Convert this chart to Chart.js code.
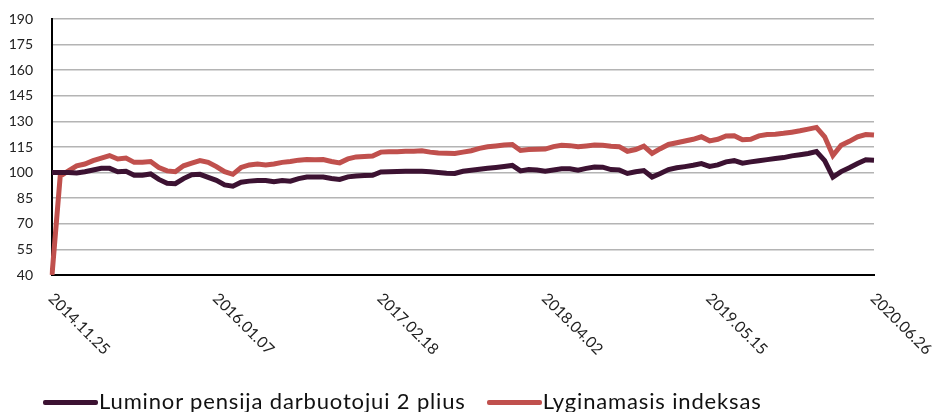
<!DOCTYPE html>
<html>
<head>
<meta charset="utf-8">
<script src="https://cdn.jsdelivr.net/npm/chart.js@4"></script>
<style>
  html, body { margin: 0; padding: 0; background: #fff; }
  #wrap { position: relative; width: 933px; height: 412px; }
  #grafico { display: block; }
  #legend {
    position: absolute; left: 43px; top: 388px;
    font: 22px Lato, sans-serif; color: #111; white-space: nowrap;
    line-height: 26px; letter-spacing: 0.85px;
  }
  .item { display: inline-block; margin-right: 21px; }
  .swatch { display: inline-block; width: 55px; height: 5px; border-radius: 2px; vertical-align: middle; margin-right: 1px; position: relative; top: -1px; }
</style>
</head>
<body>
<div id="wrap">
  <canvas id="grafico" width="933" height="412"></canvas>
  <div id="legend"></div>
</div>
<script>
// ===== DATA =====
const seriesNames = ['Luminor pensija darbuotojui 2 plius', 'Lyginamasis indeksas'];
const seriesColors = ['#3c1232', '#c0504d'];

// tick labels shown every 20th point
const tickLabels = ['2014.11.25', '2016.01.07', '2017.02.18', '2018.04.02', '2019.05.15', '2020.06.26'];
const tickStep = 20;

const fondas = [
  100, 100, 100, 99.8, 100.5, 101.5, 102.5, 102.5, 100.5, 100.8,
  98.5, 98.4, 99.2, 96, 93.8, 93.5, 96.5, 98.8, 99, 97.2,
  95.5, 92.8, 92, 94.4, 95, 95.4, 95.4, 94.6, 95.4, 95,
  96.5, 97.4, 97.4, 97.4, 96.5, 96, 97.5, 98, 98.3, 98.4,
  100.4, 100.5, 100.7, 100.8, 100.8, 100.8, 100.5, 100, 99.6, 99.5,
  100.8, 101.4, 102, 102.5, 103, 103.6, 104.2, 101, 101.8, 101.5,
  100.8, 101.5, 102.2, 102.2, 101.4, 102.5, 103.3, 103.2, 101.8, 101.6,
  99.5, 100.5, 101.2, 97.4, 99.5, 101.8, 102.8, 103.5, 104.3, 105.3,
  103.6, 104.5, 106.3, 107, 105.5, 106.3, 107, 107.6, 108.2, 108.8,
  109.8, 110.5, 111.2, 112.3, 107, 97.4, 100.6, 102.8, 105.3, 107.5,
  107.3
];

const indeksas = [
  40, 98, 101, 104, 105, 107, 108.5, 110, 108, 108.5,
  106, 106, 106.5, 103, 101, 100.5, 104, 105.5, 107, 106,
  103.5, 100.5, 99, 103, 104.5, 105, 104.5, 105, 106, 106.5,
  107.3, 107.7, 107.5, 107.7, 106.5, 105.7, 108, 109.2, 109.5, 109.7,
  112, 112.2, 112.2, 112.5, 112.5, 112.8, 112, 111.5, 111.3, 111.2,
  112, 112.8, 114.2, 115.1, 115.6, 116.2, 116.5, 113, 113.5, 113.7,
  113.8, 115.2, 116, 115.8, 115.1, 115.6, 116.2, 116, 115.5, 115.2,
  112.5, 113.5, 115.5, 111.2, 114, 116.5, 117.5, 118.5, 119.5, 121,
  118.6, 119.5, 121.5, 121.6, 119.3, 119.5, 121.5, 122.3, 122.5, 123,
  123.7, 124.5, 125.5, 126.5, 121, 110, 116, 118.3, 121, 122.3,
  122
];

const labels = fondas.map((_, i) => i);

// ===== X LABELS (rotated down-right) =====
const xLabelsPlugin = {
  id: 'xLabels',
  afterDraw(chart) {
    const ctx = chart.ctx;
    const x = chart.scales.x;
    const top = chart.chartArea.bottom;
    ctx.save();
    ctx.font = '15.5px Lato, sans-serif';
    ctx.fillStyle = '#222';
    ctx.textAlign = 'left';
    ctx.textBaseline = 'middle';
    tickLabels.forEach((t, k) => {
      const px = x.getPixelForValue(k * tickStep);
      ctx.save();
      ctx.translate(px - 1, top + 21);
      ctx.rotate(Math.PI / 4);
      ctx.fillText(t, 0, 0);
      ctx.restore();
    });
    ctx.restore();
  }
};

// ===== CHART =====
new Chart(document.getElementById('grafico'), {
  type: 'line',
  data: {
    labels,
    datasets: [
      { label: seriesNames[0], data: fondas, borderColor: seriesColors[0], borderWidth: 5, pointRadius: 0, tension: 0 },
      { label: seriesNames[1], data: indeksas, borderColor: seriesColors[1], borderWidth: 5, pointRadius: 0, tension: 0 }
    ]
  },
  options: {
    responsive: false,
    animation: false,
    layout: { autoPadding: false, padding: { top: 19, right: 59, left: 0, bottom: 137 } },
    plugins: { legend: { display: false }, tooltip: { enabled: false } },
    scales: {
      x: {
        type: 'category',
        offset: false,
        grid: { display: false, drawTicks: false },
        border: { display: true, color: '#000', width: 2 },
        ticks: { display: false }
      },
      y: {
        min: 40,
        max: 190,
        // invisible tick marks keep the labels off the axis without adding top padding
        grid: { color: '#b4b4b4', lineWidth: 1.5, drawTicks: true, tickLength: 17, tickColor: 'rgba(0,0,0,0)' },
        border: { display: true, color: '#000', width: 2 },
        ticks: { stepSize: 15, padding: 2, color: '#222', font: { family: 'Lato', size: 14 } },
        afterFit: s => { s.width = 52; }
      }
    }
  },
  plugins: [xLabelsPlugin]
});

// ===== LEGEND =====
const legend = document.getElementById('legend');
seriesNames.forEach((n, i) => {
  const item = document.createElement('span');
  item.className = 'item';
  const sw = document.createElement('span');
  sw.className = 'swatch';
  sw.style.background = seriesColors[i];
  item.appendChild(sw);
  item.appendChild(document.createTextNode(n));
  legend.appendChild(item);
});
</script>
</body>
</html>
